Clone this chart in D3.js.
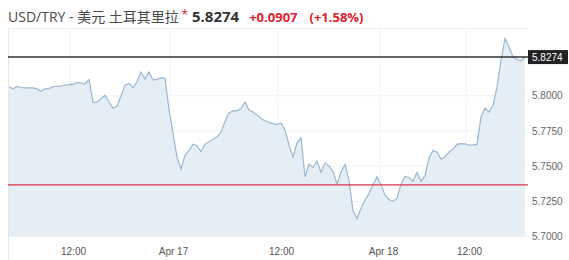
<!DOCTYPE html>
<html lang="zh">
<head>
<meta charset="UTF-8">
<script src="https://d3js.org/d3.v7.min.js"></script>
<title>USD/TRY</title>
<style>
    body { margin: 0; background: #fff; }
    svg { display: block; }
</style>
</head>
<body>
<div id="app"></div>
<script>
    const svg_width = 569;
    const svg_height = 260;

    // USD/TRY, one value per sample slot
    const prices = [
        5.8064, 5.8049, 5.8066, 5.8058, 5.8055, 5.8055, 5.8055, 5.8048, 5.8031, 5.8049,
        5.8050, 5.8065, 5.8067, 5.8069, 5.8074, 5.8079, 5.8080, 5.8094, 5.8090, 5.8083,
        5.8115, 5.7953, 5.7955, 5.7979, 5.8003, 5.7955, 5.7911, 5.7927, 5.8000, 5.8073,
        5.8087, 5.8058, 5.8099, 5.8168, 5.8119, 5.8168, 5.8112, 5.8116, 5.8127, 5.8123,
        5.7902, 5.7733, 5.7565, 5.7479, 5.7578, 5.7611, 5.7656, 5.7645, 5.7603, 5.7655,
        5.7673, 5.7691, 5.7708, 5.7739, 5.7817, 5.7877, 5.7893, 5.7893, 5.7909, 5.7955,
        5.7899, 5.7884, 5.7864, 5.7837, 5.7822, 5.7810, 5.7802, 5.7795, 5.7806, 5.7759,
        5.7651, 5.7565, 5.7666, 5.7700, 5.7425, 5.7513, 5.7491, 5.7535, 5.7458, 5.7522,
        5.7501, 5.7463, 5.7373, 5.7458, 5.7513, 5.7398, 5.7185, 5.7128, 5.7201, 5.7259,
        5.7307, 5.7368, 5.7424, 5.7369, 5.7295, 5.7264, 5.7252, 5.7273, 5.7373, 5.7428,
        5.7420, 5.7394, 5.7455, 5.7393, 5.7433, 5.7558, 5.7612, 5.7600, 5.7550, 5.7565,
        5.7601, 5.7621, 5.7655, 5.7660, 5.7659, 5.7650, 5.7651, 5.7655, 5.7849, 5.7913,
        5.7884, 5.7930, 5.8062, 5.8248, 5.8406, 5.8346, 5.8275, 5.8256, 5.8248, 5.8274
    ];

    const time_ticks = [16, 41, 68, 93.5, 115];
    const time_labels = ['12:00', 'Apr 17', '12:00', 'Apr 18', '12:00'];
    const price_ticks = [5.7000, 5.7250, 5.7500, 5.7750, 5.8000];

    const last_price = 5.8274;
    const prev_close = 5.7367;
    const change = '+0.0907';
    const change_pct = '(+1.58%)';

    const plot_left = 8, plot_right = 528, plot_top = 28;

    var svg = d3.select('#app')
        .append('svg')
        .attr('width', svg_width)
        .attr('height', svg_height)

    var x_scale = d3.scaleLinear().domain([0, prices.length - 1]).range([9, 525]);
    var y_scale = d3.scaleLinear().domain([5.7, 5.8]).range([236.7, 95.7]);

    // title
    var title = svg.append('text')
        .attr('x', 8)
        .attr('y', 22)
        .style('font-family', '"Open Sans", "Noto Sans CJK SC", sans-serif')
    title.append('tspan')
        .attr('font-size', 14)
        .attr('fill', '#4a4a4a')
        .text('USD/TRY - 美元 土耳其里拉 ')
    title.append('tspan')
        .attr('font-size', 12)
        .attr('fill', '#e0202e')
        .attr('dy', -3)
        .attr('dx', -1)
        .text('*')
    title.append('tspan')
        .attr('font-size', 15)
        .attr('font-weight', 'bold')
        .attr('fill', '#333')
        .attr('dy', 3)
        .attr('dx', 4)
        .text(d3.format('.4f')(last_price))
    title.append('tspan')
        .attr('font-size', 13)
        .attr('font-weight', 'bold')
        .attr('fill', '#e0202e')
        .attr('dx', 10)
        .text(change)
    title.append('tspan')
        .attr('font-size', 13)
        .attr('font-weight', 'bold')
        .attr('fill', '#e0202e')
        .attr('dx', 12)
        .text(change_pct)

    // grid
    svg.append('g')
        .selectAll('line')
        .data(price_ticks)
        .enter()
        .append('line')
        .attr('x1', plot_left)
        .attr('x2', plot_right)
        .attr('y1', d => y_scale(d))
        .attr('y2', d => y_scale(d))
        .attr('stroke', '#f1f3f5')

    svg.append('g')
        .selectAll('line')
        .data(time_ticks)
        .enter()
        .append('line')
        .attr('x1', d => x_scale(d) - 3)
        .attr('x2', d => x_scale(d) - 3)
        .attr('y1', plot_top)
        .attr('y2', 236.7)
        .attr('stroke', '#f1f3f5')

    // area + line
    var area = d3.area()
        .x((d, i) => x_scale(i))
        .y0(y_scale(5.7))
        .y1(d => y_scale(d))
    svg.append('path')
        .datum(prices)
        .attr('d', area)
        .attr('fill', '#e5edf5')

    var line = d3.line()
        .x((d, i) => x_scale(i))
        .y(d => y_scale(d))
    svg.append('path')
        .datum(prices)
        .attr('d', line)
        .attr('fill', 'none')
        .attr('stroke', '#99b8d3')
        .attr('stroke-width', 1.2)

    // frame
    svg.append('line')
        .attr('x1', plot_left + 0.5).attr('x2', plot_left + 0.5)
        .attr('y1', plot_top).attr('y2', svg_height)
        .attr('stroke', '#e6e6e6')
    svg.append('line')
        .attr('x1', plot_left).attr('x2', plot_right)
        .attr('y1', plot_top + 0.5).attr('y2', plot_top + 0.5)
        .attr('stroke', '#eeeeee')

    // previous close
    svg.append('line')
        .attr('x1', plot_left).attr('x2', plot_right)
        .attr('y1', y_scale(prev_close)).attr('y2', y_scale(prev_close))
        .attr('stroke', '#dc3545')
        .attr('stroke-width', 1.2)

    // last price
    svg.append('line')
        .attr('x1', plot_left).attr('x2', plot_right)
        .attr('y1', y_scale(last_price)).attr('y2', y_scale(last_price))
        .attr('stroke', '#333')
        .attr('stroke-width', 1.6)

    // y axis
    var y_axis = d3.axisRight(y_scale)
        .tickValues(price_ticks)
        .tickFormat(d3.format('.4f'))
        .tickSize(0)
        .tickPadding(4)
    var gy = svg.append('g')
        .attr('transform', 'translate(' + plot_right + ',0)')
        .call(y_axis)
    gy.select('.domain').remove()
    gy.selectAll('text')
        .attr('fill', '#666')
        .style('font-family', '"Liberation Sans", Arial, sans-serif')
        .style('font-size', '10px')

    // last price tag
    var tag = svg.append('g')
        .attr('transform', 'translate(' + plot_right + ',' + y_scale(last_price) + ')')
    tag.append('rect')
        .attr('x', 0).attr('y', -7)
        .attr('width', 40).attr('height', 14)
        .attr('fill', '#222')
    tag.append('text')
        .attr('x', 4).attr('y', 0)
        .attr('dy', '0.35em')
        .attr('fill', '#fff')
        .style('font-family', '"Liberation Sans", Arial, sans-serif')
        .style('font-size', '10px')
        .text(d3.format('.4f')(last_price))

    // x axis
    var x_axis = d3.axisBottom(x_scale)
        .tickValues(time_ticks)
        .tickFormat((d, i) => time_labels[i])
        .tickSize(0)
        .tickPadding(8)
    var gx = svg.append('g')
        .attr('transform', 'translate(0,240)')
        .call(x_axis)
    gx.select('.domain').remove()
    gx.selectAll('text')
        .attr('fill', '#555')
        .style('font-family', '"Liberation Sans", Arial, sans-serif')
        .style('font-size', '10px')
</script>
</body>
</html>
